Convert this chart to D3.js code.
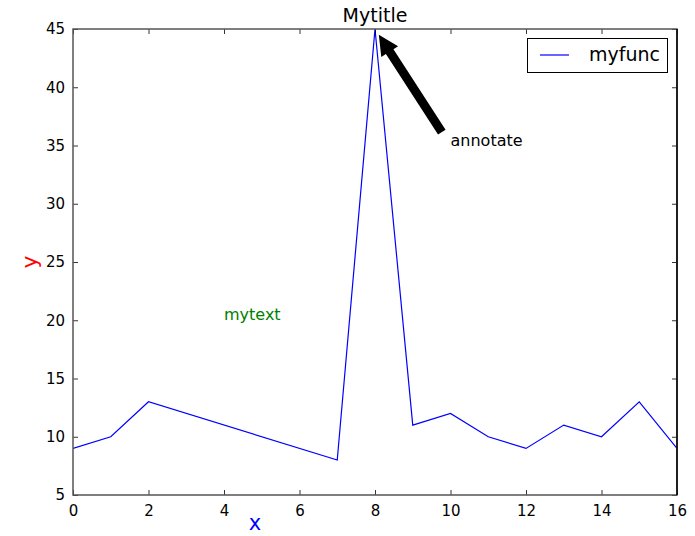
<!DOCTYPE html>
<html><head><meta charset="utf-8">
<script src="https://cdn.jsdelivr.net/npm/d3@7"></script>
<style>body{margin:0;background:#fff}svg{font-family:"DejaVu Sans",sans-serif}</style>
</head><body>
<script>
const xValues = [0, 1, 2, 7, 8, 9, 10, 11, 12, 13, 14, 15, 16];
const yValues = [9, 10, 13, 8, 45, 11, 12, 10, 9, 11, 10, 13, 9];
const xTicks = [0, 2, 4, 6, 8, 10, 12, 14, 16];
const yTicks = [5, 10, 15, 20, 25, 30, 35, 40, 45];
const seriesName = "myfunc";
const titleText = "Mytitle";
const annotation = {label: "annotate", tip: [8, 45], text: [10, 35]};
const note = {label: "mytext", at: [4, 20]};

const W = 695, H = 536;
const m = {left: 73, right: 18, top: 29, bottom: 41};
const svg = d3.select("body").append("svg").attr("width", W).attr("height", H);
const x = d3.scaleLinear().domain([0, 16]).range([m.left, W - m.right]);
const y = d3.scaleLinear().domain([5, 45]).range([H - m.bottom, m.top]);

const g = svg.append("g");
svg.append("defs").append("clipPath").attr("id", "c").append("rect")
  .attr("x", x(0)).attr("y", y(45)).attr("width", x(16) - x(0)).attr("height", y(5) - y(45));

const data = xValues.map((d, i) => [d, yValues[i]]);
g.append("path").datum(data).attr("clip-path", "url(#c)")
  .attr("fill", "none").attr("stroke", "#0000ff").attr("stroke-width", 1.2)
  .attr("d", d3.line().x(d => x(d[0])).y(d => y(d[1])));

const fs = 15;
const bx = g.append("g").attr("transform", `translate(0,${y(5)})`)
  .call(d3.axisBottom(x).tickValues(xTicks).tickSize(-5).tickPadding(8).tickFormat(d3.format("d")));
const tx = g.append("g").attr("transform", `translate(0,${y(45)})`)
  .call(d3.axisTop(x).tickValues(xTicks).tickSize(-5).tickFormat(""));
const ly = g.append("g").attr("transform", `translate(${x(0)},0)`)
  .call(d3.axisLeft(y).tickValues(yTicks).tickSize(-5).tickPadding(8).tickFormat(d3.format("d")));
const ry = g.append("g").attr("transform", `translate(${x(16)},0)`)
  .call(d3.axisRight(y).tickValues(yTicks).tickSize(-5).tickFormat(""));
[bx, tx, ly, ry].forEach(a => {
  a.select(".domain").remove();
  a.selectAll(".tick line").attr("stroke", "#000").attr("stroke-width", 0.8);
  a.selectAll("text").attr("font-size", fs).attr("fill", "#000").attr("font-family", '"DejaVu Sans",sans-serif');
});
bx.selectAll("text").attr("dy", "0.85em");

g.append("rect").attr("x", x(0)).attr("y", y(45)).attr("width", x(16) - x(0)).attr("height", y(5) - y(45))
  .attr("fill", "none").attr("stroke", "#555").attr("stroke-width", 1.5);
g.append("line").attr("x1", x(16)).attr("x2", x(16)).attr("y1", y(45)).attr("y2", y(5))
  .attr("stroke", "#000").attr("stroke-width", 1.5);

svg.append("text").attr("x", x(8)).attr("y", 22).attr("text-anchor", "middle")
  .attr("font-size", 19).text(titleText);
svg.append("text").attr("x", 255).attr("y", 530).attr("text-anchor", "middle")
  .attr("font-size", 21).attr("fill", "#0000ff").text("x");
svg.append("text").attr("transform", `translate(37,${y(25)}) rotate(-90)`).attr("text-anchor", "middle")
  .attr("font-size", 22).attr("fill", "#ff0000").text("y");

svg.append("text").attr("x", x(note.at[0])).attr("y", y(note.at[1])).attr("font-size", 16)
  .attr("fill", "#008000").text(note.label);

svg.append("text").attr("x", x(annotation.text[0])).attr("y", y(annotation.text[1])).attr("font-size", 16)
  .text(annotation.label);
{
  const tx0 = x(annotation.tip[0]), ty0 = y(annotation.tip[1]);
  const sx = x(annotation.text[0]), sy = y(annotation.text[1]);
  const dx = sx - tx0, dy = sy - ty0, L = Math.hypot(dx, dy);
  const ux = dx / L, uy = dy / L;
  const tipX = tx0 + ux * 7, tipY = ty0 + uy * 7;
  const tailX = sx - ux * 16, tailY = sy - uy * 16;
  const headLen = 20, headW = 10, shaftW = 4.5;
  const px = -uy, py = ux;
  const bxp = tipX + ux * headLen, byp = tipY + uy * headLen;
  const pts = [
    [tipX, tipY],
    [bxp + px * headW, byp + py * headW],
    [bxp + px * shaftW, byp + py * shaftW],
    [tailX + px * shaftW, tailY + py * shaftW],
    [tailX - px * shaftW, tailY - py * shaftW],
    [bxp - px * shaftW, byp - py * shaftW],
    [bxp - px * headW, byp - py * headW]
  ];
  svg.append("polygon").attr("points", pts.map(p => p.join(",")).join(" ")).attr("fill", "#000");
}

const lg = svg.append("g");
lg.append("rect").attr("x", 527.5).attr("y", 38.5).attr("width", 140).attr("height", 34)
  .attr("fill", "#fff").attr("stroke", "#000").attr("stroke-width", 1);
lg.append("line").attr("x1", 540).attr("x2", 569).attr("y1", 55).attr("y2", 55)
  .attr("stroke", "#0000ff").attr("stroke-width", 1.2);
lg.append("text").attr("x", 589).attr("y", 61).attr("font-size", 19).text(seriesName);
</script>
</body></html>
